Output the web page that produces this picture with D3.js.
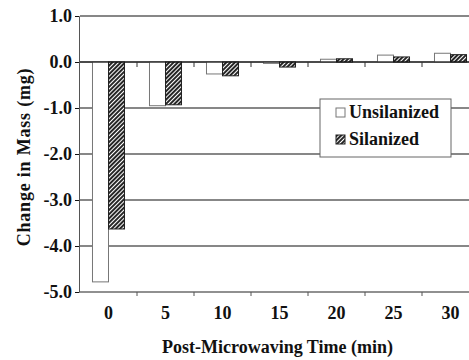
<!DOCTYPE html>
<html>
<head>
<meta charset="utf-8">
<script src="https://cdn.jsdelivr.net/npm/d3@7"></script>
<style>
  body { margin: 0; background: #fff; }
  text { font-family: "Liberation Serif", "Times New Roman", serif; font-weight: bold; }
</style>
</head>
<body>
<div id="chart"></div>
<script>
// data
const times = ["0", "5", "10", "15", "20", "25", "30"];
const series = ["Unsilanized", "Silanized"];
const unsilanized = [-4.78, -0.95, -0.26, -0.03, 0.06, 0.15, 0.19];
const silanized = [-3.63, -0.93, -0.30, -0.11, 0.07, 0.11, 0.16];
const yTicks = [1, 0, -1, -2, -3, -4, -5];

const width = 469, height = 360;
const margin = { left: 80, top: 16, bottom: 68 };
const plotRight = 479; // last group runs past the image edge, like the scan

const svg = d3.select("#chart").append("svg")
    .attr("width", width)
    .attr("height", height);

// hatch for silanized bars
const defs = svg.append("defs");
defs.append("pattern")
    .attr("id", "hatch")
    .attr("patternUnits", "userSpaceOnUse")
    .attr("width", 3)
    .attr("height", 3)
    .attr("patternTransform", "rotate(45)")
    .call(p => {
        p.append("rect").attr("width", 3).attr("height", 3).attr("fill", "#fff");
        p.append("line")
            .attr("x1", 1).attr("y1", 0).attr("x2", 1).attr("y2", 3)
            .attr("stroke", "#000").attr("stroke-width", 1.7);
    });

const x = d3.scaleBand()
    .domain(times)
    .range([margin.left, plotRight]);

const xSub = d3.scaleBand()
    .domain(series)
    .range([0, x.bandwidth()])
    .paddingOuter(0.78);

const y = d3.scaleLinear()
    .domain([-5, 1])
    .range([height - margin.bottom, margin.top]);

// grid lines
svg.append("g")
    .selectAll("line")
    .data(yTicks.filter(d => d > -5))
    .join("line")
    .attr("x1", margin.left)
    .attr("x2", width)
    .attr("y1", d => y(d))
    .attr("y2", d => y(d))
    .attr("stroke", "#111")
    .attr("stroke-width", 1.2);

// bars
const rows = times.map((t, i) => ({ t, vals: [unsilanized[i], silanized[i]] }));
const groups = svg.append("g")
    .selectAll("g")
    .data(rows)
    .join("g")
    .attr("transform", d => `translate(${x(d.t)},0)`);

groups.selectAll("rect")
    .data(d => d.vals.map((v, j) => ({ s: series[j], v })))
    .join("rect")
    .attr("x", d => xSub(d.s))
    .attr("width", xSub.bandwidth())
    .attr("y", d => y(Math.max(0, d.v)))
    .attr("height", d => Math.abs(y(d.v) - y(0)))
    .attr("fill", d => d.s === "Silanized" ? "url(#hatch)" : "#fff")
    .attr("stroke", d => d.s === "Silanized" ? "#222" : "#777")
    .attr("stroke-width", 1);

// zero line on top of bars, with little ticks at group edges
svg.append("line")
    .attr("x1", margin.left).attr("x2", width)
    .attr("y1", y(0)).attr("y2", y(0))
    .attr("stroke", "#111").attr("stroke-width", 1.2);

const edges = times.slice(1).map(t => x(t));
svg.append("g")
    .selectAll("line")
    .data(edges)
    .join("line")
    .attr("x1", d => d).attr("x2", d => d)
    .attr("y1", y(0)).attr("y2", y(0) + 5)
    .attr("stroke", "#333");

// y axis (plain hyphen for negatives, as in the figure)
const yAxis = d3.axisLeft(y)
    .tickValues(yTicks)
    .tickSize(4)
    .tickPadding(3)
    .tickFormat(d => d.toFixed(1));

svg.append("g")
    .attr("transform", `translate(${margin.left - 1},0)`)
    .call(yAxis)
    .call(g => g.select(".domain").attr("stroke", "#555"))
    .call(g => g.selectAll(".tick line").attr("stroke", "#111"))
    .call(g => g.selectAll("text")
        .attr("font-size", "18px")
        .attr("font-family", "Liberation Serif, serif")
        .attr("font-weight", "bold")
        .attr("fill", "#111"));

// x axis
const xAxis = d3.axisBottom(x)
    .tickSize(0)
    .tickPadding(14);

svg.append("g")
    .attr("transform", `translate(0,${y(-5)})`)
    .call(xAxis)
    .call(g => g.select(".domain").attr("d", `M${margin.left},0H${width}`).attr("stroke", "#222").attr("stroke-width", 1.2))
    .call(g => g.selectAll("text")
        .attr("font-size", "18px")
        .attr("font-family", "Liberation Serif, serif")
        .attr("font-weight", "bold")
        .attr("fill", "#111"));

svg.append("g")
    .selectAll("line")
    .data(edges)
    .join("line")
    .attr("x1", d => d).attr("x2", d => d)
    .attr("y1", y(-5)).attr("y2", y(-5) + 4)
    .attr("stroke", "#555");

// axis titles
svg.append("text")
    .attr("x", (margin.left + plotRight) / 2 - 2)
    .attr("y", 353)
    .attr("text-anchor", "middle")
    .attr("font-size", "18px")
    .attr("fill", "#111")
    .text("Post-Microwaving Time (min)");

svg.append("text")
    .attr("transform", "translate(30,157) rotate(-90)")
    .attr("text-anchor", "middle")
    .attr("font-size", "18px")
    .attr("letter-spacing", "0.8px")
    .attr("fill", "#111")
    .text("Change in Mass (mg)");

// legend
const legend = svg.append("g").attr("transform", "translate(320,99)");
legend.append("rect")
    .attr("width", 131)
    .attr("height", 58)
    .attr("fill", "#fff")
    .attr("stroke", "#666")
    .attr("stroke-width", 1);

const items = legend.selectAll("g.item")
    .data(series)
    .join("g")
    .attr("class", "item")
    .attr("transform", (d, i) => `translate(16,${9 + i * 27})`);

items.append("rect")
    .attr("width", 9)
    .attr("height", 9)
    .attr("fill", d => d === "Silanized" ? "url(#hatch)" : "#fff")
    .attr("stroke", d => d === "Silanized" ? "#222" : "#777");

items.append("text")
    .attr("x", 13)
    .attr("y", 10)
    .attr("font-size", "18px")
    .attr("fill", "#111")
    .text(d => d);
</script>
</body>
</html>
